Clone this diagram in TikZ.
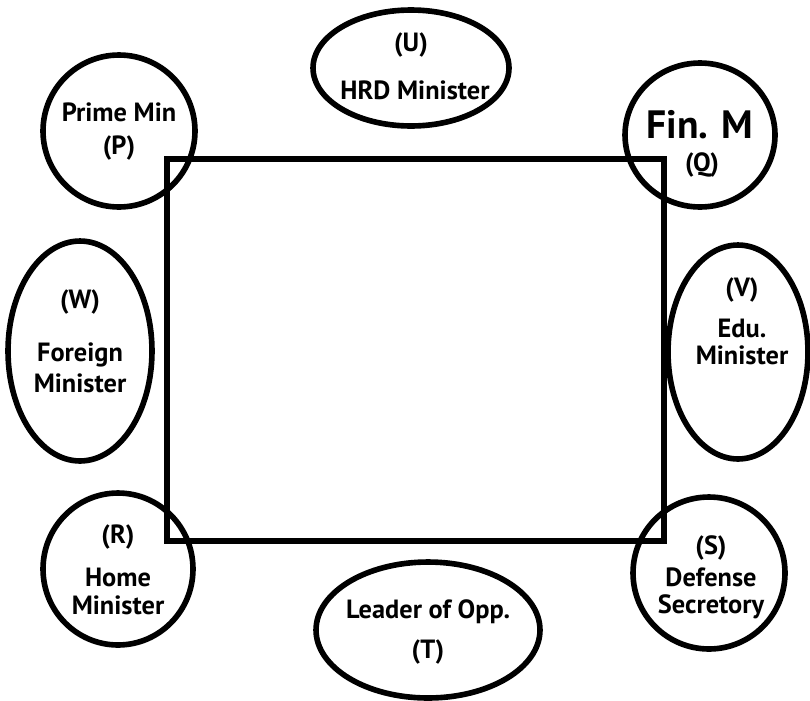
\documentclass[tikz,border=0pt]{standalone}
\usepackage{fontspec}
\setmainfont{PT Sans}
\usetikzlibrary{shapes.geometric}
\tikzset{
  seat/.style={draw,ellipse,line width=3.2pt,inner sep=0pt},
  lbl/.style={font=\bfseries\fontsize{15}{17}\selectfont,inner sep=0pt},
  biglbl/.style={font=\bfseries\fontsize{22.5}{26}\selectfont,inner sep=0pt}
}
\begin{document}
\begin{tikzpicture}[x=0.02cm,y=-0.02cm]
    \useasboundingbox (0,0) rectangle (810,700);
    %% the table
    \draw[line width=3.6pt] (167,159) rectangle (664,541);
    %% seats round the table
    \node[seat,minimum width=3.04cm,minimum height=3.04cm] (P) at (119,131) {};
    \node[seat,minimum width=3.92cm,minimum height=2.32cm] (U) at (411,68) {};
    \node[seat,minimum width=3.0cm,minimum height=2.88cm] (Q) at (700,135) {};
    \node[seat,minimum width=2.88cm,minimum height=4.4cm] (W) at (80,351) {};
    \node[seat,minimum width=2.8cm,minimum height=4.28cm] (V) at (738,352) {};
    \node[seat,minimum width=3.0cm,minimum height=3.04cm] (R) at (118,569) {};
    \node[seat,minimum width=4.48cm,minimum height=2.72cm] (T) at (428,630) {};
    \node[seat,minimum width=3.04cm,minimum height=3.04cm] (S) at (709,573) {};
    %% names
    \node[lbl] (P1) at (119,112) {Prime Min};
    \node[lbl] (P2) at (119,148) {(P)};
    \node[lbl] (U1) at (411,45) {(U)};
    \node[lbl] (U2) at (415,90) {HRD Minister};
    \node[biglbl] (Q1) at (700,125) {Fin. M};
    \node[lbl] (Q2) at (702,165) {(Q)};
    \node[lbl] (W1) at (80,302) {(W)};
    \node[lbl] (W2) at (80,355) {Foreign};
    \node[lbl] (W3) at (80,383) {Minister};
    \node[lbl] (V1) at (742,290) {(V)};
    \node[lbl] (V2) at (742,328) {Edu.};
    \node[lbl] (V3) at (742,355) {Minister};
    \node[lbl] (R1) at (118,537) {(R)};
    \node[lbl] (R2) at (118,577) {Home};
    \node[lbl] (R3) at (118,605) {Minister};
    \node[lbl] (T1) at (428,612) {Leader of Opp.};
    \node[lbl] (T2) at (428,652) {(T)};
    \node[lbl] (S1) at (711,548) {(S)};
    \node[lbl] (S2) at (711,577) {Defense};
    \node[lbl] (S3) at (711,607) {Secretory};
\end{tikzpicture}
\end{document}
